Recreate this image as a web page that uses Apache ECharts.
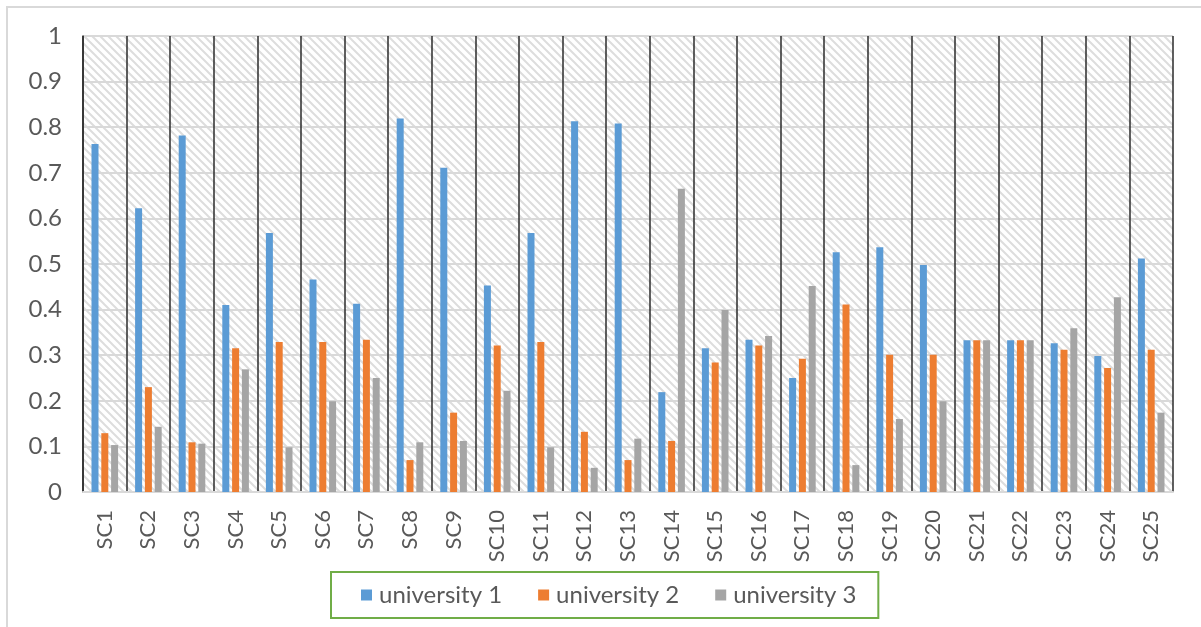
<!DOCTYPE html>
<html>
<head>
<meta charset="utf-8">
<script src="https://cdn.jsdelivr.net/npm/echarts@6/dist/echarts.min.js"></script>
<style>
  html, body { margin: 0; padding: 0; background: #fff; }
  #chart { width: 1201px; height: 627px; }
</style>
</head>
<body>
<div id="chart"></div>
<script>
// Categories (SC1 .. SC25)
const categories = ['SC1','SC2','SC3','SC4','SC5','SC6','SC7','SC8','SC9','SC10',
  'SC11','SC12','SC13','SC14','SC15','SC16','SC17','SC18','SC19','SC20',
  'SC21','SC22','SC23','SC24','SC25'];

// Scores per university
const university1 = [0.763, 0.622, 0.782, 0.410, 0.568, 0.466, 0.413, 0.819, 0.711, 0.453,
  0.568, 0.813, 0.808, 0.219, 0.315, 0.334, 0.250, 0.526, 0.537, 0.498,
  0.333, 0.333, 0.326, 0.298, 0.512];
const university2 = [0.129, 0.230, 0.109, 0.315, 0.329, 0.329, 0.334, 0.070, 0.174, 0.321,
  0.329, 0.132, 0.070, 0.112, 0.284, 0.321, 0.292, 0.411, 0.301, 0.301,
  0.333, 0.333, 0.312, 0.272, 0.312];
const university3 = [0.103, 0.143, 0.106, 0.269, 0.098, 0.199, 0.250, 0.109, 0.112, 0.222,
  0.098, 0.053, 0.117, 0.665, 0.399, 0.342, 0.452, 0.059, 0.160, 0.199,
  0.333, 0.333, 0.359, 0.427, 0.174];

const seriesNames = ['university 1', 'university 2', 'university 3'];
const seriesColors = ['#5b9bd5', '#ed7d31', '#a5a5a5'];

// Diagonal hatch used as the plot-area fill
function makeHatch() {
  const s = 8;
  const c = document.createElement('canvas');
  c.width = s; c.height = s;
  const g = c.getContext('2d');
  g.fillStyle = '#ffffff';
  g.fillRect(0, 0, s, s);
  g.strokeStyle = '#dddddd';
  g.lineWidth = 2;
  g.beginPath();
  g.moveTo(-1, -1); g.lineTo(s + 1, s + 1);
  g.moveTo(-1, s - 1); g.lineTo(1, s + 1);
  g.moveTo(s - 1, -1); g.lineTo(s + 1, 1);
  g.stroke();
  return c;
}

const font = 'Lato, "Open Sans", sans-serif';
const chart = echarts.init(document.getElementById('chart'), null, { renderer: 'canvas' });

chart.setOption({
  backgroundColor: '#ffffff',
  animation: false,
  graphic: [{
    type: 'rect',
    shape: { x: 7, y: 7, width: 1210, height: 640 },
    style: { fill: 'none', stroke: '#d9d9d9', lineWidth: 2 },
    silent: true,
    z: -1
  }],
  grid: {
    left: 83, right: 28, top: 36, bottom: 135,
    show: true,
    borderWidth: 0,
    backgroundColor: { image: makeHatch(), repeat: 'repeat' }
  },
  legend: {
    data: seriesNames,
    left: 331,
    top: 572,
    padding: [11, 22, 11, 30],
    borderColor: '#70ad47',
    borderWidth: 2,
    itemWidth: 11,
    itemHeight: 11,
    itemGap: 36,
    icon: 'rect',
    textStyle: { fontFamily: font, fontSize: 24, color: '#595959', padding: [0, 0, 0, 2] }
  },
  xAxis: {
    type: 'category',
    data: categories,
    boundaryGap: true,
    axisLine: { show: true, lineStyle: { color: '#d9d9d9', width: 2 } },
    axisTick: { show: false },
    splitLine: { show: true, lineStyle: { color: '#2b2b2b', width: 1.5 } },
    axisLabel: {
      rotate: 90,
      margin: 18,
      fontFamily: font,
      fontSize: 22,
      color: '#595959'
    }
  },
  yAxis: {
    type: 'value',
    min: 0,
    max: 1,
    interval: 0.1,
    axisLine: { show: true, lineStyle: { color: '#2b2b2b', width: 1.5 } },
    axisTick: { show: false },
    splitLine: { show: true, lineStyle: { color: '#d9d9d9', width: 2 } },
    axisLabel: {
      margin: 21,
      fontFamily: font,
      fontSize: 24,
      color: '#595959'
    }
  },
  series: [university1, university2, university3].map((vals, i) => ({
    name: seriesNames[i],
    type: 'bar',
    data: vals,
    barWidth: 7,
    barGap: '40%',
    itemStyle: { color: seriesColors[i] }
  }))
});
</script>
</body>
</html>
